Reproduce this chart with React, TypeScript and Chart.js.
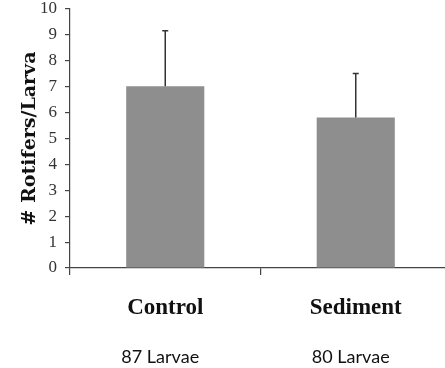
import React, { useEffect, useRef } from "react";
import { Chart, registerables } from "chart.js";

Chart.register(...registerables);

const categories = ["Control", "Sediment"];
const meanRotifers = [7.02, 5.81];
const sdRotifers = [2.14, 1.7];
const larvaeCounts = [87, 80];
const yTicks = [0, 1, 2, 3, 4, 5, 6, 7, 8, 9, 10];

const errorBarPlugin = {
  id: "errorBars",
  afterDatasetsDraw(chart: any) {
    const { ctx, scales } = chart;
    const meta = chart.getDatasetMeta(0);
    ctx.save();
    ctx.strokeStyle = "#333333";
    ctx.lineWidth = 1.5;
    meta.data.forEach((bar: any, i: number) => {
      const x = bar.x;
      const yTop = scales.y.getPixelForValue(meanRotifers[i] + sdRotifers[i]);
      const yMid = scales.y.getPixelForValue(meanRotifers[i]);
      ctx.beginPath();
      ctx.moveTo(x, yMid);
      ctx.lineTo(x, yTop);
      ctx.moveTo(x - 3, yTop);
      ctx.lineTo(x + 3, yTop);
      ctx.stroke();
    });
    ctx.restore();
  },
};

const larvaePlugin = {
  id: "larvaeCounts",
  afterDraw(chart: any) {
    const { ctx, scales } = chart;
    ctx.save();
    ctx.font = "18px Lato, 'Open Sans', sans-serif";
    ctx.fillStyle = "#111111";
    ctx.textAlign = "center";
    ctx.textBaseline = "alphabetic";
    larvaeCounts.forEach((n, i) => {
      const x = scales.x.getPixelForValue(i) - 5;
      ctx.fillText(`${n} Larvae`, x, 363);
    });
    ctx.restore();
  },
};

export default function App() {
  const canvasRef = useRef<HTMLCanvasElement>(null);

  useEffect(() => {
    if (!canvasRef.current) return;
    const chart = new Chart(canvasRef.current, {
      type: "bar",
      data: {
        labels: categories,
        datasets: [
          {
            data: meanRotifers,
            backgroundColor: "#8e8e8e",
            borderWidth: 0,
            barPercentage: 0.41,
            categoryPercentage: 1,
          },
        ],
      },
      options: {
        responsive: false,
        animation: false,
        layout: { padding: { top: 0, left: 0, right: 0, bottom: 0 } },
        plugins: {
          legend: { display: false },
          tooltip: { enabled: false },
        },
        scales: {
          x: {
            grid: {
              drawOnChartArea: false,
              drawTicks: true,
              tickLength: 7,
              color: "#444444",
              lineWidth: 1.2,
            },
            border: { color: "#444444", width: 1.2 },
            ticks: {
              color: "#111111",
              padding: 19,
              font: { family: "'Liberation Serif', serif", size: 23, weight: "bold" },
            },
            afterFit(scale: any) {
              scale.height = 100;
            },
          },
          y: {
            min: 0,
            max: 10,
            afterBuildTicks(scale: any) {
              scale.ticks = yTicks.map((v) => ({ value: v }));
            },
            grid: {
              drawOnChartArea: false,
              drawTicks: true,
              tickLength: 5,
              color: "#444444",
              lineWidth: 1.2,
            },
            border: { color: "#444444", width: 1.2 },
            ticks: {
              color: "#333333",
              padding: 8,
              font: { family: "'Liberation Serif', serif", size: 17 },
            },
            title: {
              display: true,
              text: "# Rotifers/Larva",
              color: "#111111",
              font: { family: "'DejaVu Serif', serif", size: 19, weight: "bold" },
              padding: { top: 19, bottom: 0 },
            },
            afterFit(scale: any) {
              scale.width = 70;
              scale.paddingTop = 9;
              scale.paddingBottom = 0;
            },
          },
        },
      },
      plugins: [errorBarPlugin, larvaePlugin],
    });
    return () => chart.destroy();
  }, []);

  return (
    <div
      style={{
        position: "absolute",
        left: 0,
        top: 0,
        width: 445,
        height: 368,
        overflow: "hidden",
        background: "#ffffff",
      }}
    >
      <canvas ref={canvasRef} width={451} height={368} style={{ display: "block" }} />
    </div>
  );
}
